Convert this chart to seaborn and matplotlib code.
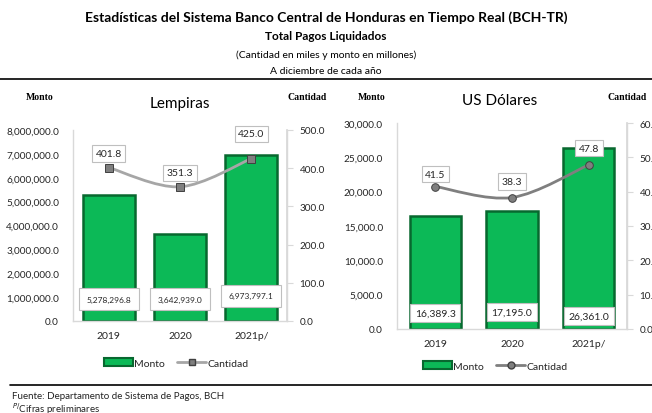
import numpy as np
import pandas as pd
import matplotlib
matplotlib.use("Agg")
import matplotlib.pyplot as plt
from matplotlib.path import Path
from matplotlib.patches import PathPatch, Patch
from matplotlib.lines import Line2D
import seaborn as sns

# ---- data ----
years = ["2019", "2020", "2021p/"]
monto_lps = [5278296.8, 3642939.0, 6973797.1]
cant_lps = [401.8, 351.3, 425.0]
monto_usd = [16389.3, 17195.0, 26361.0]
cant_usd = [41.5, 38.3, 47.8]
lps_left_ticks = [0, 1e6, 2e6, 3e6, 4e6, 5e6, 6e6, 7e6, 8e6]
lps_right_ticks = [0, 100, 200, 300, 400, 500]
usd_left_ticks = [0, 5000, 10000, 15000, 20000, 25000, 30000]
usd_right_ticks = [0, 10, 20, 30, 40, 50, 60]

sns.set_theme(style="white")
plt.rcParams['font.family'] = ['Lato', 'DejaVu Sans']

BAR = "#0CB957"
BAR_EDGE = "#08682F"
W, H = 652, 414
fig = plt.figure(figsize=(W / 100, H / 100), dpi=100)


def fx(px):
    return px / W


def fy(py):
    return 1 - py / H


# header
fig.text(0.5, fy(18), "Estadísticas del Sistema Banco Central de Honduras en Tiempo Real (BCH-TR)",
         ha="center", va="center", fontsize=10, fontweight="bold", color="#000000")
fig.text(0.5, fy(37), "Total Pagos Liquidados", ha="center", va="center",
         fontsize=8.5, fontweight="bold", color="#000000")
fig.text(0.5, fy(55), "(Cantidad en miles y monto en millones)", ha="center", va="center",
         fontsize=7.5, color="#000000")
fig.text(0.5, fy(71), "A diciembre de cada año", ha="center", va="center",
         fontsize=7.5, color="#000000")
fig.add_artist(Line2D([0, 1], [fy(80), fy(80)], color="black", lw=1.2, transform=fig.transFigure))
fig.add_artist(Line2D([fx(10), 1], [fy(386), fy(386)], color="black", lw=1.2, transform=fig.transFigure))
fig.text(fx(12), fy(397), "Fuente: Departamento de Sistema de Pagos, BCH", ha="left", va="center",
         fontsize=7, color="#222222")
fig.text(fx(12), fy(409), r"$^{P/}$Cifras preliminares", ha="left", va="center",
         fontsize=7, color="#222222")


def smooth_path(xs, ys):
    pts = np.column_stack([xs, ys]).astype(float)
    ext = np.vstack([pts[0], pts, pts[-1]])
    verts = [tuple(pts[0])]
    codes = [Path.MOVETO]
    for i in range(len(pts) - 1):
        p0, p1, p2, p3 = ext[i], ext[i + 1], ext[i + 2], ext[i + 3]
        c1 = p1 + (p2 - p0) / 6.0
        c2 = p2 - (p3 - p1) / 6.0
        verts += [tuple(c1), tuple(c2), tuple(p2)]
        codes += [Path.CURVE4] * 3
    return Path(verts, codes)


def panel(rect, monto, cant, lticks, rticks, lfmt, title, title_xy, monto_xy, cant_xy,
          bar_w, line_col, marker, mon_label_y, cant_offsets, mon_fs, mon_pad, leg_xy):
    ax = fig.add_axes(rect)
    df = pd.DataFrame({"year": years, "monto": monto, "cant": cant})
    sns.barplot(data=df, x="year", y="monto", ax=ax, color=BAR, width=bar_w,
                edgecolor=BAR_EDGE, linewidth=1.8, saturation=1)
    ax.set_ylim(lticks[0], lticks[-1])
    ax.set_yticks(lticks)
    ax.set_yticklabels([lfmt(v) for v in lticks], fontsize=7.2, color="#262626")
    ax.set_xlabel("")
    ax.set_ylabel("")
    ax.tick_params(axis="x", labelsize=7.5, colors="#262626", length=0, pad=7)
    ax.tick_params(axis="y", length=0, pad=10)
    ax.spines["top"].set_visible(False)
    for s in ["left", "bottom", "right"]:
        ax.spines[s].set_color("#D9D9D9")
        ax.spines[s].set_linewidth(1.0)
    ax.grid(False)
    for i, v in enumerate(monto):
        ax.text(i, mon_label_y[i], f"{v:,.1f}", ha="center", va="center", fontsize=mon_fs,
                color="#262626", zorder=6,
                bbox=dict(boxstyle=f"square,pad={mon_pad}", fc="white", ec="#BFBFBF", lw=0.8))

    ax2 = ax.twinx()
    ax2.set_ylim(rticks[0], rticks[-1])
    ax2.set_yticks(rticks)
    ax2.set_yticklabels([f"{v:,.1f}" for v in rticks], fontsize=7.2, color="#262626")
    ax2.tick_params(axis="y", length=4, width=0.8, color="#D9D9D9", pad=5)
    for s in ["top", "left", "bottom"]:
        ax2.spines[s].set_visible(False)
    ax2.spines["right"].set_color("#D9D9D9")
    ax2.grid(False)
    xs = np.arange(len(cant))
    ax2.add_patch(PathPatch(smooth_path(xs, cant), fc="none", ec=line_col, lw=2.0, zorder=3))
    sns.lineplot(x=xs, y=cant, ax=ax2, lw=0, marker=marker, markersize=5.5,
                 markerfacecolor="#7F7F7F", markeredgecolor="#404040", markeredgewidth=0.7,
                 zorder=4)
    ax2.set_xlim(-0.5, len(cant) - 0.5)
    ax.set_xlim(-0.5, len(cant) - 0.5)
    for i, v in enumerate(cant):
        ax2.annotate(f"{v:.1f}", (i, v), xytext=(0, cant_offsets[i]), textcoords="offset points",
                     ha="center", va="center", fontsize=7.5, color="#262626", zorder=6,
                     bbox=dict(boxstyle="square,pad=0.35", fc="white", ec="#BFBFBF", lw=0.8))

    fig.text(fx(title_xy[0]), fy(title_xy[1]), title, ha="center", va="center",
             fontsize=11, color="#000000")
    fig.text(fx(monto_xy[0]), fy(monto_xy[1]), "Monto", ha="center", va="center",
             fontsize=7, color="#000000", family="Liberation Serif", fontweight="bold")
    fig.text(fx(cant_xy[0]), fy(cant_xy[1]), "Cantidad", ha="center", va="center",
             fontsize=7, color="#000000", family="Liberation Serif", fontweight="bold")

    handles = [Patch(fc=BAR, ec=BAR_EDGE, lw=1.5, label="Monto"),
               Line2D([], [], color=line_col, lw=2, marker=marker, markersize=5,
                      markerfacecolor="#7F7F7F", markeredgecolor="#404040", label="Cantidad")]
    fig.legend(handles=handles, loc="center", bbox_to_anchor=(fx(leg_xy[0]), fy(leg_xy[1])),
               ncol=2, frameon=False, fontsize=7.5, handlelength=2.8, handleheight=0.7,
               handletextpad=0.1, columnspacing=1.2)
    return ax, ax2


panel([fx(73), fy(322), fx(287 - 73), (322 - 131) / H],
      monto_lps, cant_lps, lps_left_ticks, lps_right_ticks, lambda v: f"{v:,.1f}",
      "Lempiras", (180, 104), (40, 97), (307, 97), 0.73, "#A6A6A6", "s",
      [920000, 920000, 1050000], [10, 10, 18], 6, 0.9, (176, 364))

panel([fx(397), fy(330), fx(627 - 397), (330 - 124) / H],
      monto_usd, cant_usd, usd_left_ticks, usd_right_ticks, lambda v: f"{v:,.1f}",
      "US Dólares", (500, 101), (372, 97), (627, 97), 0.67, "#7F7F7F", "o",
      [2300, 2500, 1900], [9, 11.5, 12], 7.5, 0.45, (495, 367))

fig.savefig("out.png", dpi=100)
